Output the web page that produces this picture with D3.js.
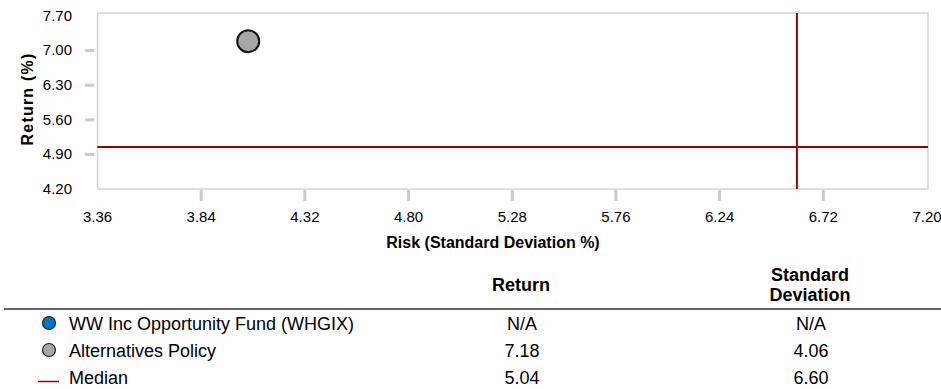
<!DOCTYPE html>
<html><head><meta charset="utf-8">
<script src="https://cdn.jsdelivr.net/npm/d3@7"></script>
<style>body{margin:0;background:#fff;} text{font-family:"Liberation Sans",Arial,sans-serif;fill:#000;}</style>
</head><body>
<svg id="c" width="941" height="389"></svg>
<script>
const xTicks = [3.36, 3.84, 4.32, 4.80, 5.28, 5.76, 6.24, 6.72, 7.20];
const yTicks = [4.20, 4.90, 5.60, 6.30, 7.00, 7.70];
const seriesNames = ["WW Inc Opportunity Fund (WHGIX)", "Alternatives Policy", "Median"];
const seriesReturn = [null, 7.18, 5.04];
const seriesStdDev = [null, 4.06, 6.60];
const seriesColors = ["#0078c1", "#a6a6a6", "#990000"];

const svg = d3.select("#c");
const FONT = "Liberation Sans, Arial, sans-serif";
const x = d3.scaleLinear().domain([3.36, 7.20]).range([97, 926.5]);
const y = d3.scaleLinear().domain([4.20, 7.70]).range([188.5, 15.5]);

// frame
svg.append("rect").attr("x", 97.5).attr("y", 13).attr("width", 830.5).attr("height", 176)
  .attr("fill", "none").attr("stroke", "#d3d5d8").attr("stroke-width", 1.5);

// x axis
const xAxis = svg.append("g").attr("transform", "translate(0,190)")
  .call(d3.axisBottom(x).tickValues(xTicks).tickFormat(d3.format(".2f")).tickSize(11).tickPadding(10));
xAxis.select(".domain").remove();
xAxis.selectAll(".tick line").attr("stroke", "#c5cbd1").attr("stroke-width", 3)
  .attr("display", (d, i) => (i === 0 || i === xTicks.length - 1) ? "none" : null);
xAxis.selectAll(".tick text").attr("font-size", 15).attr("fill", "#000").attr("font-family", FONT);

// y axis
const yAxis = svg.append("g").attr("transform", "translate(95,0)")
  .call(d3.axisLeft(y).tickValues(yTicks).tickFormat(d3.format(".2f")).tickSize(10).tickPadding(13));
yAxis.select(".domain").remove();
yAxis.selectAll(".tick line").attr("stroke", "#c5cbd1").attr("stroke-width", 3).attr("x1", -10).attr("x2", -1)
  .attr("display", (d, i) => (i === 0 || i === yTicks.length - 1) ? "none" : null);
yAxis.selectAll(".tick text").attr("font-size", 15).attr("fill", "#000").attr("font-family", FONT);

// axis titles
svg.append("text").attr("x", 493).attr("y", 248).attr("text-anchor", "middle")
  .attr("font-size", 16).attr("font-weight", "bold").text("Risk (Standard Deviation %)");
svg.append("text").attr("transform", "translate(33,99) rotate(-90)").attr("text-anchor", "middle")
  .attr("font-size", 16).attr("font-weight", "bold").attr("letter-spacing", 1.2).text("Return (%)");

// median lines
svg.append("line").attr("x1", 97.5).attr("x2", 928).attr("y1", y(seriesReturn[2])).attr("y2", y(seriesReturn[2]))
  .attr("stroke", seriesColors[2]).attr("stroke-width", 2);
svg.append("line").attr("x1", x(seriesStdDev[2])).attr("x2", x(seriesStdDev[2])).attr("y1", 13).attr("y2", 189)
  .attr("stroke", seriesColors[2]).attr("stroke-width", 2);

// points
[0, 1].forEach(i => {
  if (seriesReturn[i] != null) {
    svg.append("circle").attr("cx", x(seriesStdDev[i])).attr("cy", y(seriesReturn[i])).attr("r", 11)
      .attr("fill", seriesColors[i]).attr("stroke", "#111").attr("stroke-width", 2);
  }
});

// table
svg.append("text").attr("x", 521).attr("y", 291).attr("text-anchor", "middle").attr("font-size", 18).attr("font-weight", "bold").text("Return");
svg.append("text").attr("x", 810).attr("y", 281).attr("text-anchor", "middle").attr("font-size", 18).attr("font-weight", "bold").text("Standard");
svg.append("text").attr("x", 810).attr("y", 301).attr("text-anchor", "middle").attr("font-size", 18).attr("font-weight", "bold").text("Deviation");
svg.append("line").attr("x1", 4).attr("x2", 941).attr("y1", 309).attr("y2", 309).attr("stroke", "#333").attr("stroke-width", 1.5);

const rowY = [323, 350, 377];
seriesNames.forEach((n, i) => {
  const yy = rowY[i];
  if (i < 2) {
    svg.append("circle").attr("cx", 49).attr("cy", yy).attr("r", 6.5).attr("fill", seriesColors[i]).attr("stroke", "#222").attr("stroke-width", 1.2);
  } else {
    svg.append("line").attr("x1", 38).attr("x2", 59).attr("y1", yy + 4.5).attr("y2", yy + 4.5).attr("stroke", seriesColors[i]).attr("stroke-width", 1.5);
  }
  svg.append("text").attr("x", 69).attr("y", yy + 6.5).attr("font-size", 18).text(n);
  svg.append("text").attr("x", 522).attr("y", yy + 6.5).attr("text-anchor", "middle").attr("font-size", 18)
    .text(seriesReturn[i] == null ? "N/A" : seriesReturn[i].toFixed(2));
  svg.append("text").attr("x", 811).attr("y", yy + 6.5).attr("text-anchor", "middle").attr("font-size", 18)
    .text(seriesStdDev[i] == null ? "N/A" : seriesStdDev[i].toFixed(2));
});
</script>
</body></html>
